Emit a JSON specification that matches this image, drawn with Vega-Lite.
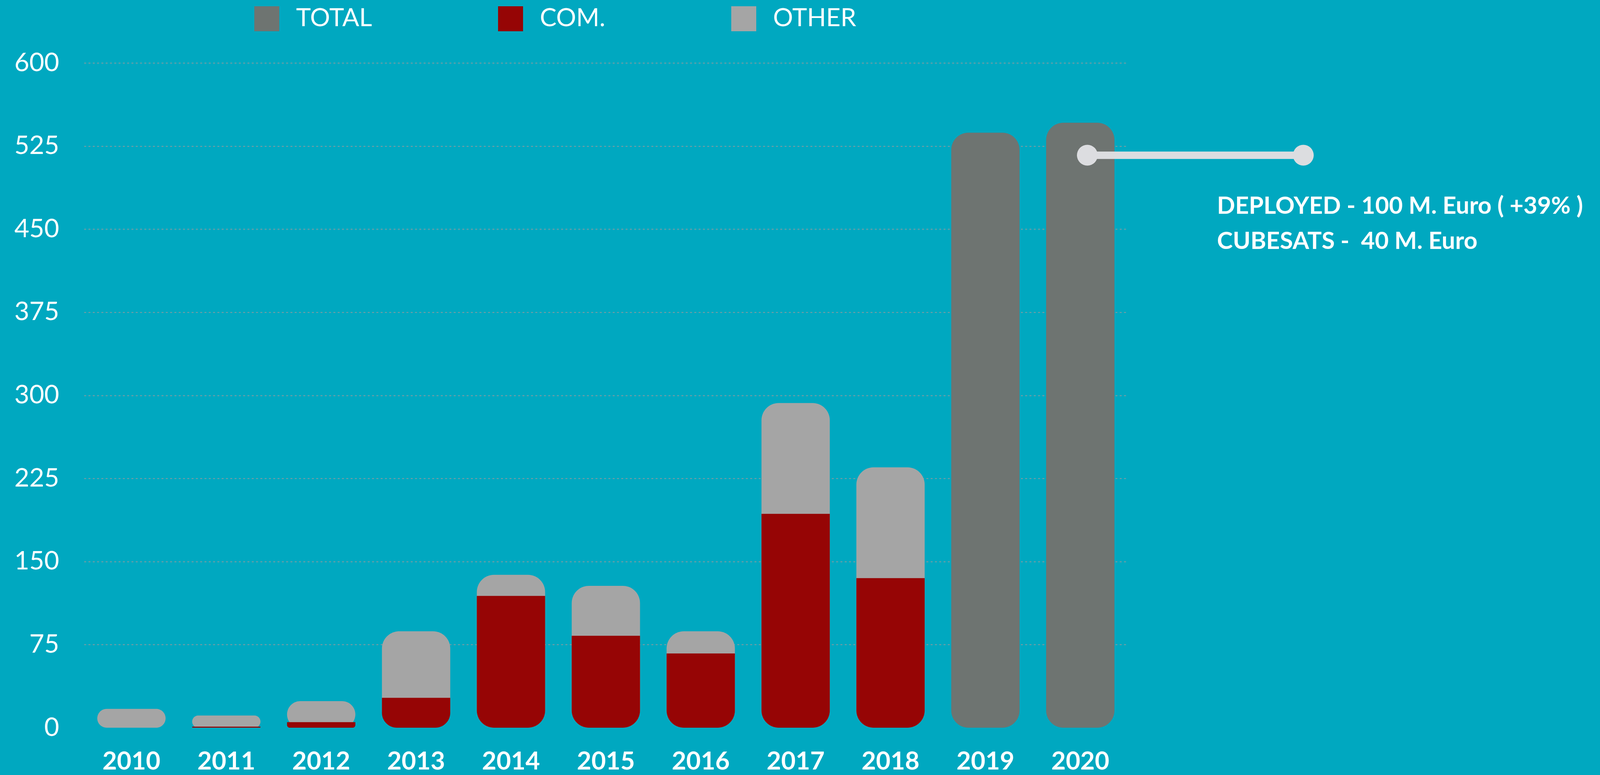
{
  "$schema": "https://vega.github.io/schema/vega-lite/v6.json",
  "autosize": {"type": "none", "contains": "padding"},
  "width": 4282,
  "height": 1983,
  "padding": {"left": 215, "top": 161, "right": 1395, "bottom": 121},
  "background": "#00A8C0",
  "config": {
    "view": {"stroke": null},
    "font": "Lato",
    "axis": {"domain": false, "ticks": false, "tickSize": 0, "title": null}
  },
  "data": {
    "values": [
      {"year": "2010", "series": "COM.", "value": 0},
      {"year": "2010", "series": "OTHER", "value": 17},
      {"year": "2011", "series": "COM.", "value": 1},
      {"year": "2011", "series": "OTHER", "value": 10},
      {"year": "2012", "series": "COM.", "value": 5},
      {"year": "2012", "series": "OTHER", "value": 19},
      {"year": "2013", "series": "COM.", "value": 27},
      {"year": "2013", "series": "OTHER", "value": 60},
      {"year": "2014", "series": "COM.", "value": 119},
      {"year": "2014", "series": "OTHER", "value": 19},
      {"year": "2015", "series": "COM.", "value": 83},
      {"year": "2015", "series": "OTHER", "value": 45},
      {"year": "2016", "series": "COM.", "value": 67},
      {"year": "2016", "series": "OTHER", "value": 20},
      {"year": "2017", "series": "COM.", "value": 193},
      {"year": "2017", "series": "OTHER", "value": 100},
      {"year": "2018", "series": "COM.", "value": 135},
      {"year": "2018", "series": "OTHER", "value": 100},
      {"year": "2019", "series": "TOTAL", "value": 537},
      {"year": "2020", "series": "TOTAL", "value": 546}
    ]
  },
  "layer": [
    {
      "transform": [
        {"joinaggregate": [{"op": "sum", "field": "value", "as": "total"}], "groupby": ["year"]},
        {"filter": "datum.series !== 'COM.'"}
      ],
      "mark": {"type": "bar", "cornerRadius": 44},
      "encoding": {
        "x": {
          "field": "year", "type": "ordinal",
          "scale": {"paddingInner": 0.28, "paddingOuter": 0.14},
          "axis": {"labelAngle": 0, "labelFontSize": 64, "labelColor": "#FFFFFF", "labelFontWeight": "bold", "labelPadding": 55}
        },
        "y": {
          "field": "total", "type": "quantitative", "stack": null,
          "scale": {"domain": [0, 600], "nice": false},
          "axis": {
            "values": [0, 75, 150, 225, 300, 375, 450, 525, 600],
            "labelFontSize": 66, "labelColor": "#FFFFFF", "labelPadding": 64,
            "grid": true, "gridColor": "#8E9A9E", "gridDash": [5, 6], "gridWidth": 2,
            "gridOpacity": {"condition": {"test": "datum.value === 0", "value": 0}, "value": 1}
          }
        },
        "color": {
          "field": "series", "type": "nominal",
          "scale": {"domain": ["TOTAL", "COM.", "OTHER"], "range": ["#6E7471", "#960505", "#A5A5A5"]},
          "legend": {
            "title": null, "orient": "none", "direction": "horizontal",
            "legendX": 436, "legendY": -145,
            "symbolType": "square", "symbolSize": 4096, "symbolStrokeWidth": 0, "symbolOpacity": 1,
            "labelFontSize": 64, "labelColor": "#FFFFFF", "labelOffset": 43, "columnPadding": 322,
            "labelLimit": 1000
          }
        }
      }
    },
    {
      "transform": [{"filter": "datum.series === 'COM.' && datum.value > 0"}],
      "mark": {"type": "bar", "cornerRadiusBottomLeft": 44, "cornerRadiusBottomRight": 44},
      "encoding": {
        "x": {"field": "year", "type": "ordinal"},
        "y": {"field": "value", "type": "quantitative", "stack": null},
        "color": {"field": "series", "type": "nominal"}
      }
    },
    {
      "data": {"values": [{}]},
      "mark": {"type": "rule", "color": "#DCDDE0", "strokeWidth": 19, "xOffset": 18, "x2Offset": 571},
      "encoding": {
        "x": {"datum": "2020", "type": "ordinal"},
        "x2": {"datum": "2020"},
        "y": {"datum": 516.7, "type": "quantitative"}
      }
    },
    {
      "data": {"values": [{}]},
      "mark": {"type": "point", "shape": "circle", "filled": true, "color": "#DCDDE0", "opacity": 1, "size": 2830, "xOffset": 18},
      "encoding": {
        "x": {"datum": "2020", "type": "ordinal"},
        "y": {"datum": 516.7, "type": "quantitative"}
      }
    },
    {
      "data": {"values": [{}]},
      "mark": {"type": "point", "shape": "circle", "filled": true, "color": "#DCDDE0", "opacity": 1, "size": 2830, "xOffset": 571},
      "encoding": {
        "x": {"datum": "2020", "type": "ordinal"},
        "y": {"datum": 516.7, "type": "quantitative"}
      }
    },
    {
      "data": {"values": [{}]},
      "mark": {
        "type": "text", "align": "left", "baseline": "alphabetic", "dx": 350,
        "text": ["DEPLOYED - 100 M. Euro ( +39% )", "CUBESATS - \u00a040 M. Euro"],
        "lineHeight": 90, "fontSize": 61, "fontWeight": "bold", "color": "#FFFFFF"
      },
      "encoding": {
        "x": {"datum": "2020", "type": "ordinal"},
        "y": {"datum": 463.8, "type": "quantitative"}
      }
    }
  ]
}
